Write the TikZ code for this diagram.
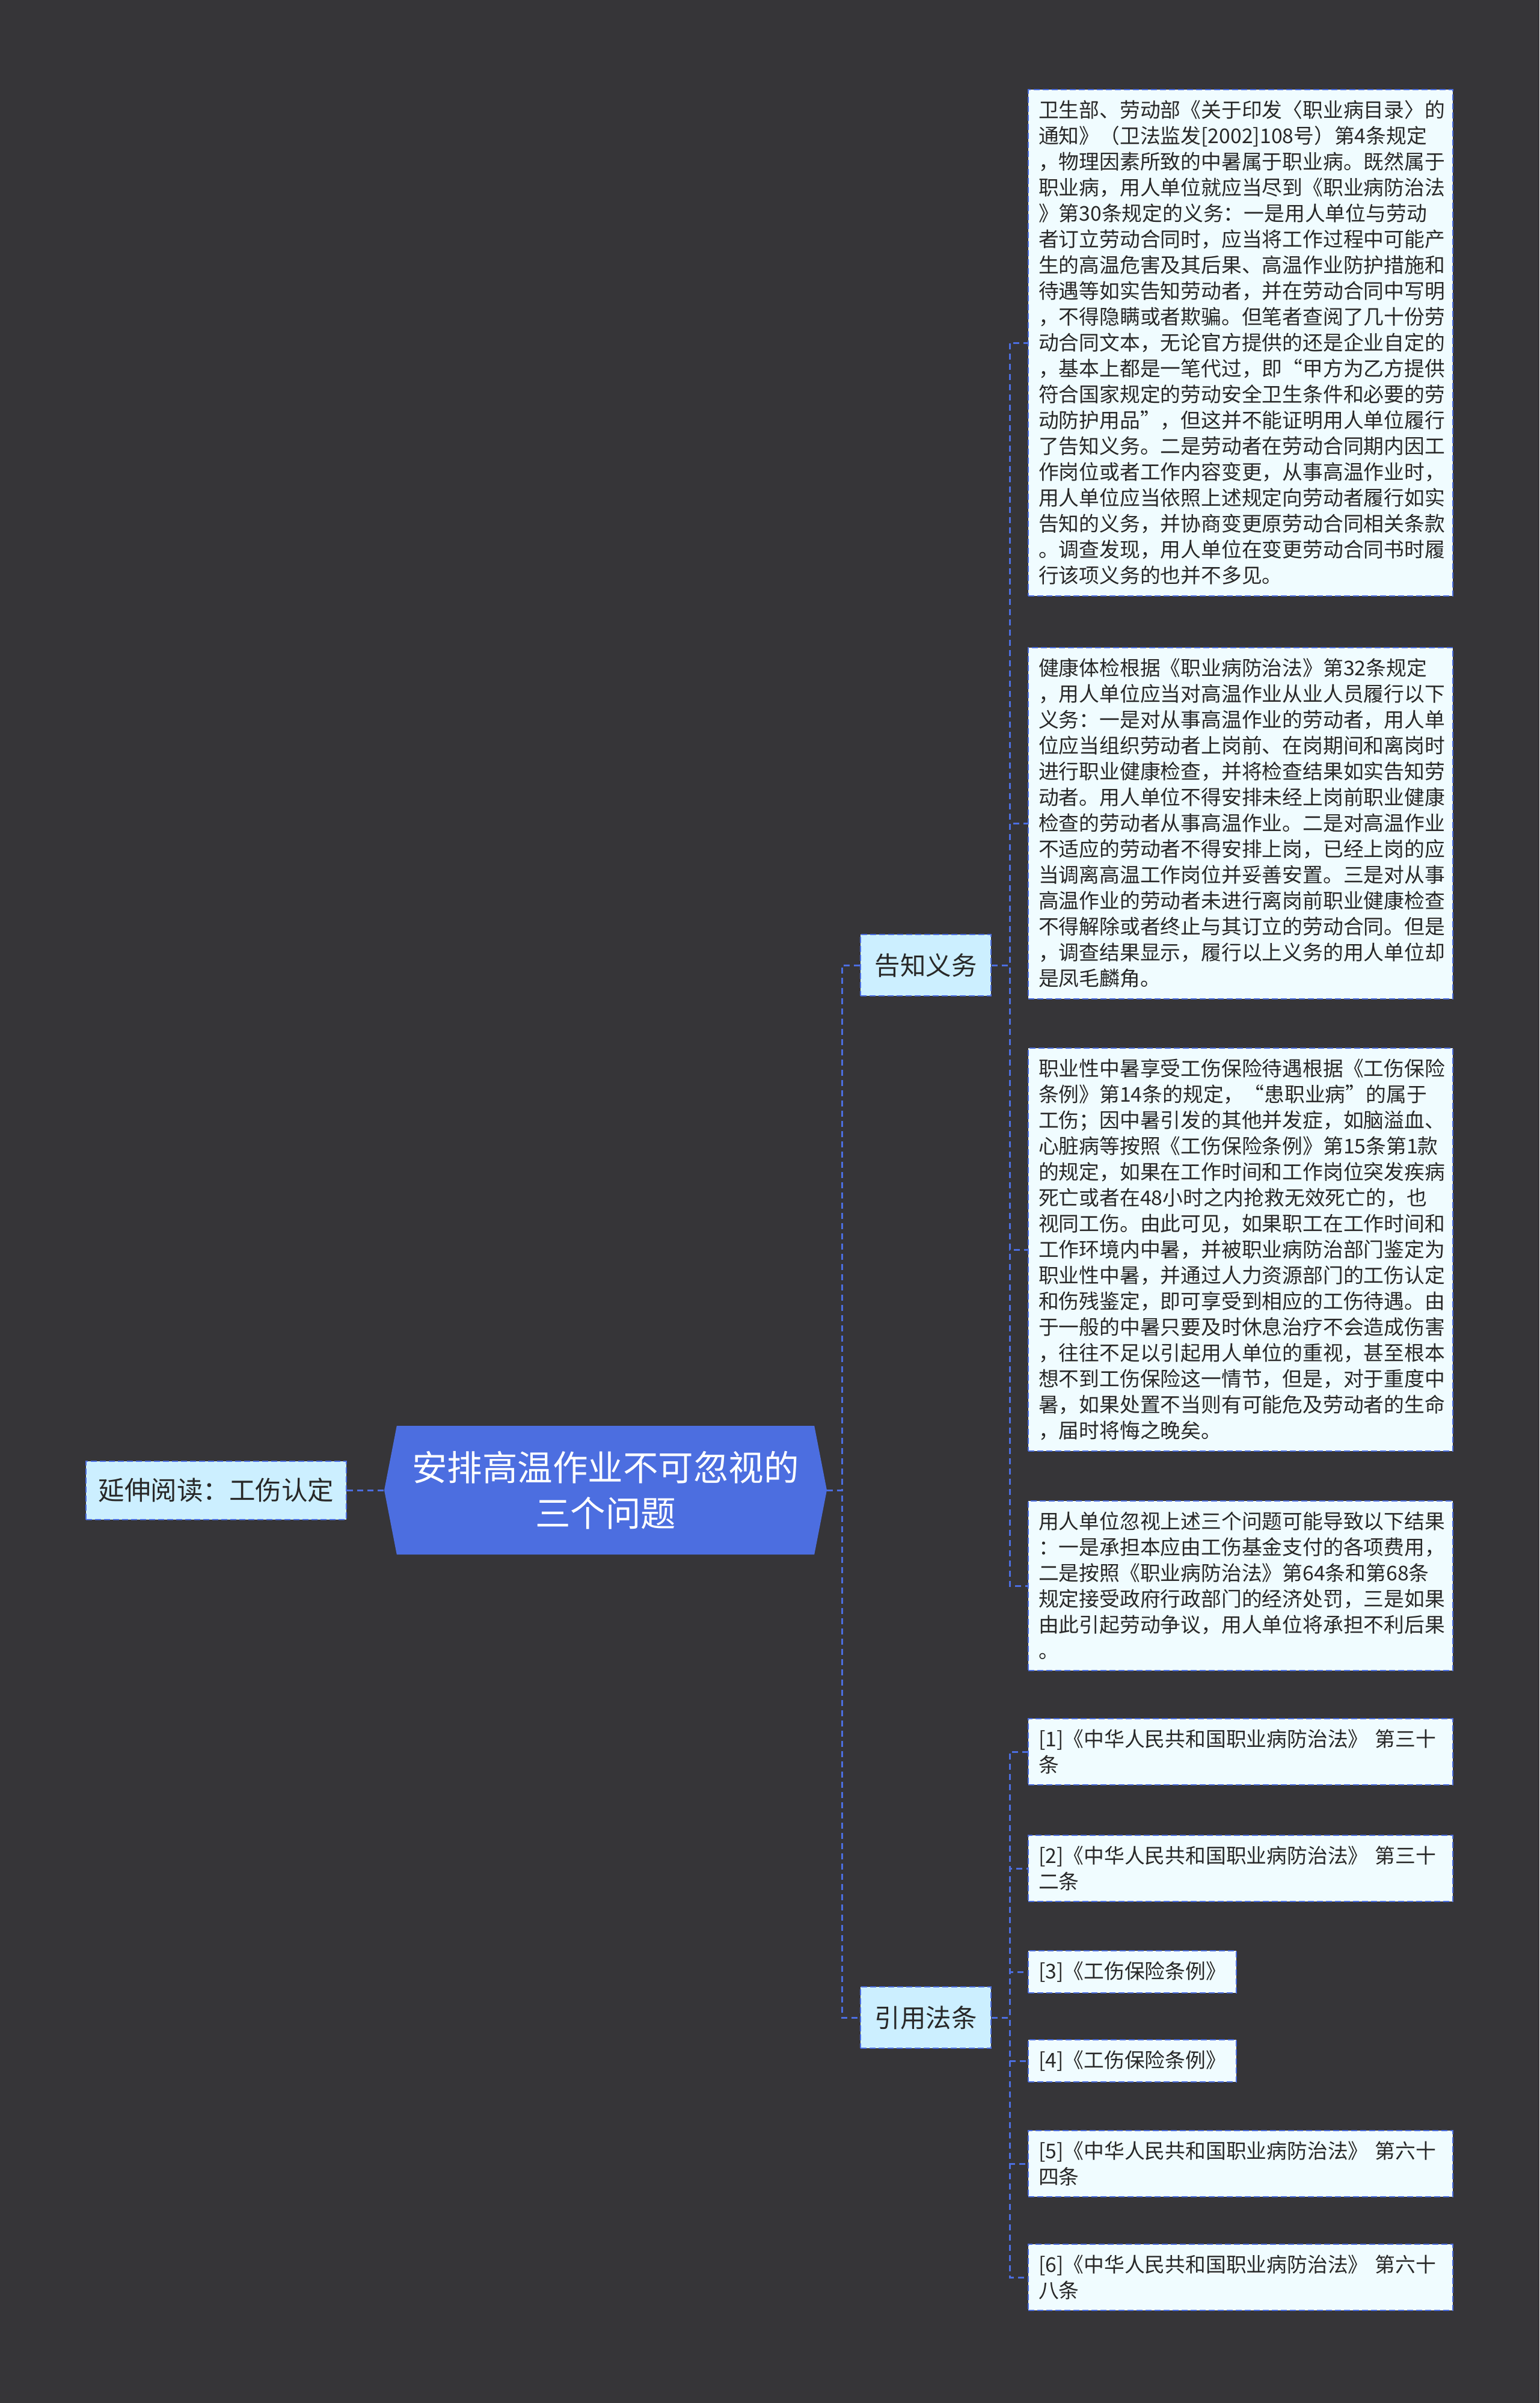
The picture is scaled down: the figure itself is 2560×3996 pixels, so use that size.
\documentclass[tikz,border=0pt]{standalone}
\usepackage{fontspec}
\setmainfont{Noto Sans CJK SC}
\usepackage{tikz}
\usetikzlibrary{shapes.symbols}
\definecolor{bgdark}{RGB}{54,53,56}
\definecolor{linkblue}{RGB}{76,110,224}
\definecolor{rootblue}{RGB}{76,110,224}
\definecolor{topicfill}{RGB}{204,239,255}
\definecolor{leaffill}{RGB}{240,252,255}
\definecolor{textdark}{RGB}{40,40,40}

\begin{document}
\begin{tikzpicture}[
  x=1pt, y=-1pt,
  link/.style={draw=linkblue, line width=3pt, dash pattern=on 10pt off 7pt},
  leaf/.style={draw=linkblue, fill=leaffill, line width=2pt,
               dash pattern=on 10pt off 5pt, text=textdark, align=left,
               inner xsep=17pt, inner ysep=18pt, anchor=west,
               font=\fontsize{33.8pt}{43pt}\selectfont},
  longleaf/.style={leaf, text width=672pt},
  topic/.style={draw=linkblue, fill=topicfill, line width=2pt,
                dash pattern=on 10pt off 5pt, text=textdark, inner sep=0pt,
                minimum width=217pt, minimum height=102pt,
                font=\fontsize{42.5pt}{50pt}\selectfont},
  root/.style={shape=signal, signal to=east and west, signal pointer angle=158,
               fill=rootblue, text=white, align=center, inner sep=0pt,
               minimum width=736pt, minimum height=214pt,
               font=\fontsize{58.5pt}{76pt}\selectfont}
]
  \fill[bgdark] (0,0) rectangle (2560,3996);
  \useasboundingbox (0,0) rectangle (2560,3996);

  % centre and left side
  \node[root] (root) at (1007,2478) {安排高温作业不可忽视的\\三个问题};
  \node[topic, minimum width=433pt, minimum height=97pt,
        font=\fontsize{43.5pt}{50pt}\selectfont] (extra) at (359.5,2478)
    {延伸阅读：工伤认定};

  % two branches
  \node[topic] (gaozhi) at (1539.5,1605) {告知义务};
  \node[topic] (yinyong) at (1539.5,3355) {引用法条};

  % texts under 告知义务
  \node[longleaf] (t1) at (1709,570) {卫生部、劳动部《关于印发〈职业病目录〉的\\
通知》（卫法监发[2002]108号）第4条规定\\
，物理因素所致的中暑属于职业病。既然属于\\
职业病，用人单位就应当尽到《职业病防治法\\
》第30条规定的义务：一是用人单位与劳动\\
者订立劳动合同时，应当将工作过程中可能产\\
生的高温危害及其后果、高温作业防护措施和\\
待遇等如实告知劳动者，并在劳动合同中写明\\
，不得隐瞒或者欺骗。但笔者查阅了几十份劳\\
动合同文本，无论官方提供的还是企业自定的\\
，基本上都是一笔代过，即“甲方为乙方提供\\
符合国家规定的劳动安全卫生条件和必要的劳\\
动防护用品”，但这并不能证明用人单位履行\\
了告知义务。二是劳动者在劳动合同期内因工\\
作岗位或者工作内容变更，从事高温作业时，\\
用人单位应当依照上述规定向劳动者履行如实\\
告知的义务，并协商变更原劳动合同相关条款\\
。调查发现，用人单位在变更劳动合同书时履\\
行该项义务的也并不多见。};
  \node[longleaf] (t2) at (1709,1369) {健康体检根据《职业病防治法》第32条规定\\
，用人单位应当对高温作业从业人员履行以下\\
义务：一是对从事高温作业的劳动者，用人单\\
位应当组织劳动者上岗前、在岗期间和离岗时\\
进行职业健康检查，并将检查结果如实告知劳\\
动者。用人单位不得安排未经上岗前职业健康\\
检查的劳动者从事高温作业。二是对高温作业\\
不适应的劳动者不得安排上岗，已经上岗的应\\
当调离高温工作岗位并妥善安置。三是对从事\\
高温作业的劳动者未进行离岗前职业健康检查\\
不得解除或者终止与其订立的劳动合同。但是\\
，调查结果显示，履行以上义务的用人单位却\\
是凤毛麟角。};
  \node[longleaf] (t3) at (1709,2078) {职业性中暑享受工伤保险待遇根据《工伤保险\\
条例》第14条的规定，“患职业病”的属于\\
工伤；因中暑引发的其他并发症，如脑溢血、\\
心脏病等按照《工伤保险条例》第15条第1款\\
的规定，如果在工作时间和工作岗位突发疾病\\
死亡或者在48小时之内抢救无效死亡的，也\\
视同工伤。由此可见，如果职工在工作时间和\\
工作环境内中暑，并被职业病防治部门鉴定为\\
职业性中暑，并通过人力资源部门的工伤认定\\
和伤残鉴定，即可享受到相应的工伤待遇。由\\
于一般的中暑只要及时休息治疗不会造成伤害\\
，往往不足以引起用人单位的重视，甚至根本\\
想不到工伤保险这一情节，但是，对于重度中\\
暑，如果处置不当则有可能危及劳动者的生命\\
，届时将悔之晚矣。};
  \node[longleaf] (t4) at (1709,2637) {用人单位忽视上述三个问题可能导致以下结果\\
：一是承担本应由工伤基金支付的各项费用，\\
二是按照《职业病防治法》第64条和第68条\\
规定接受政府行政部门的经济处罚，三是如果\\
由此引起劳动争议，用人单位将承担不利后果\\
。};

  % laws under 引用法条
  \node[longleaf] (r1) at (1709,2913) {[1]《中华人民共和国职业病防治法》 第三十\\条};
  \node[longleaf] (r2) at (1709,3107) {[2]《中华人民共和国职业病防治法》 第三十\\二条};
  \node[leaf] (r3) at (1709,3279) {[3]《工伤保险条例》};
  \node[leaf] (r4) at (1709,3427) {[4]《工伤保险条例》};
  \node[longleaf] (r5) at (1709,3598) {[5]《中华人民共和国职业病防治法》 第六十\\四条};
  \node[longleaf] (r6) at (1709,3787) {[6]《中华人民共和国职业病防治法》 第六十\\八条};

  % connectors
  \draw[link] (extra.east) -- (root.west);
  \foreach \n in {gaozhi, yinyong}
    \draw[link] (root.east) -- ++(25,0) |- (\n.west);
  \foreach \n in {t1, t2, t3, t4}
    \draw[link] (gaozhi.east) -- ++(30,0) |- (\n.west);
  \foreach \n in {r1, r2, r3, r4, r5, r6}
    \draw[link] (yinyong.east) -- ++(30,0) |- (\n.west);
\end{tikzpicture}
\end{document}
